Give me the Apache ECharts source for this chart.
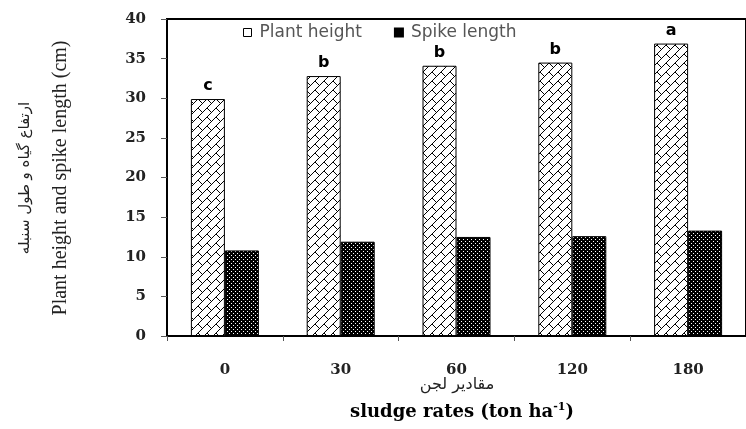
<!DOCTYPE html>
<html><head><meta charset="utf-8">
<script src="https://cdn.jsdelivr.net/npm/echarts@6/dist/echarts.min.js"></script>
<style>html,body{margin:0;padding:0;background:#fff}#c{width:746px;height:429px}</style>
</head><body><div id="c"></div>
<script>
var categories = ['0', '30', '60', '120', '180'];
var plantHeight = [29.9, 32.8, 34.1, 34.5, 36.9];
var spikeLength = [10.8, 11.9, 12.5, 12.6, 13.3];
var letters = ['c', 'b', 'b', 'b', 'a'];
var yTicks = { min: 0, max: 40, interval: 5 };

function brickPattern() {
  var S = 72, step = 9, dstep = 18;
  var cv = document.createElement('canvas'); cv.width = S; cv.height = S;
  var g = cv.getContext('2d');
  g.fillStyle = '#fff'; g.fillRect(0, 0, S, S);
  g.strokeStyle = '#000'; g.lineWidth = 1;
  g.beginPath();
  for (var k = -20; k <= 30; k++) {
    var c = k * step;
    g.moveTo(c - S * 2, S * 2); g.lineTo(c + S * 2, -S * 2);
    var off = (((k % 2) + 2) % 2) * step;
    for (var m = -12; m <= 12; m++) {
      var d = m * dstep + off;
      g.moveTo((c + d) / 2, (c - d) / 2);
      g.lineTo((c + step + d) / 2, (c + step - d) / 2);
    }
  }
  g.stroke();
  return cv;
}
function dotPattern() {
  var cv = document.createElement('canvas'); cv.width = 4; cv.height = 4;
  var g = cv.getContext('2d');
  g.fillStyle = '#000'; g.fillRect(0, 0, 4, 4);
  g.fillStyle = '#fff'; g.fillRect(1, 1, 1, 1); g.fillRect(3, 3, 1, 1);
  return cv;
}
var brick = { image: brickPattern(), repeat: 'repeat' };
var dots = { image: dotPattern(), repeat: 'repeat' };

var chart = echarts.init(document.getElementById('c'), null, { renderer: 'canvas' });
chart.setOption({
  animation: false,
  backgroundColor: '#fff',
  grid: { left: 167, top: 19, right: -9, bottom: 93, show: true, borderColor: '#000', borderWidth: 2, backgroundColor: 'transparent' },
  legend: {
    left: 238, top: 19, itemWidth: 8, itemHeight: 8, itemGap: 32,
    textStyle: { fontFamily: 'DejaVu Sans', fontSize: 17, color: '#555', padding: [0, 0, 0, 3] },
    data: [
      { name: 'Plant height', icon: 'rect', itemStyle: { color: '#fff', borderColor: '#000', borderWidth: 1 } },
      { name: 'Spike length', icon: 'rect', itemStyle: { color: '#000' } }
    ]
  },
  xAxis: {
    type: 'category', data: categories,
    axisLine: { lineStyle: { color: '#000', width: 2 } },
    axisTick: { show: true, length: 5, lineStyle: { color: '#555' } },
    axisLabel: { margin: 27, fontFamily: 'DejaVu Serif', fontWeight: 'bold', fontSize: 15, color: '#222' }
  },
  yAxis: {
    type: 'value', min: yTicks.min, max: yTicks.max, interval: yTicks.interval,
    splitLine: { show: false },
    axisLine: { show: true, lineStyle: { color: '#000', width: 2 } },
    axisTick: { show: true, length: 6, lineStyle: { color: '#555' } },
    axisLabel: { margin: 21, fontFamily: 'DejaVu Serif', fontWeight: 'bold', fontSize: 15, color: '#222' }
  },
  series: [
    {
      name: 'Plant height', type: 'bar', data: plantHeight, barWidth: 34, barGap: '0%',
      itemStyle: { color: brick, borderColor: '#000', borderWidth: 1 },
      label: { show: true, position: 'top', distance: 5, fontFamily: 'DejaVu Sans', fontWeight: 'bold', fontSize: 16, color: '#000',
        formatter: function (p) { return letters[p.dataIndex]; } }
    },
    {
      name: 'Spike length', type: 'bar', data: spikeLength, barWidth: 34,
      itemStyle: { color: dots, borderColor: '#000', borderWidth: 1 }
    }
  ],
  graphic: [
    { type: 'text', x: 25, y: 178, rotation: Math.PI / 2,
      style: { text: 'ارتفاع گیاه و طول سنبله', font: '15px "DejaVu Sans"', fill: '#222', align: 'center', verticalAlign: 'middle' } },
    { type: 'text', x: 61, y: 178, rotation: Math.PI / 2,
      style: { text: 'Plant height and spike length (cm)', font: '20px "Liberation Serif"', fill: '#222', align: 'center', verticalAlign: 'middle' } },
    { type: 'text', x: 457, y: 385,
      style: { text: 'مقادیر لجن', font: '16px "DejaVu Sans"', fill: '#222', align: 'center', verticalAlign: 'middle' } },
    { type: 'text', x: 462, y: 412,
      style: { text: '{b|sludge rates (ton ha}{s|-1}{b|)}', align: 'center', verticalAlign: 'middle',
        rich: { b: { fontFamily: 'DejaVu Serif', fontWeight: 'bold', fontSize: 18, color: '#222' },
                s: { fontFamily: 'DejaVu Serif', fontWeight: 'bold', fontSize: 11, color: '#222', padding: [0, 0, 9, 0] } } } }
  ]
});
</script></body></html>
